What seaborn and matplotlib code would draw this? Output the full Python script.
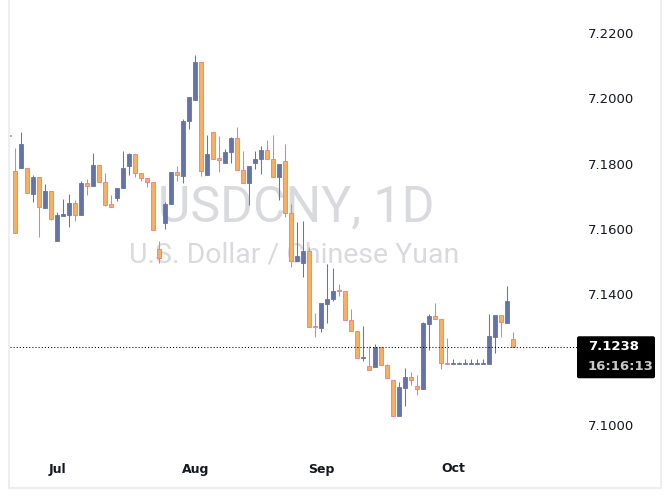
import pandas as pd
import numpy as np
import matplotlib.pyplot as plt
import seaborn as sns
from matplotlib.patches import FancyBboxPatch
from matplotlib.lines import Line2D
from matplotlib.transforms import IdentityTransform

# daily USDCNY candles
opens = [7.1886, 7.1777, 7.1786, 7.1786, 7.1708, 7.1758, 7.1665, 7.1715, 7.1564, 7.1639,
         7.1644, 7.1679, 7.1642, 7.1740, 7.1733, 7.1795, 7.1743, 7.1676, 7.1696, 7.1725,
         7.1794, 7.1829, 7.1771, 7.1755, 7.1743, 7.1538, 7.1617, 7.1676, 7.1774, 7.1763,
         7.1930, 7.1995, 7.2111, 7.1766, 7.1897, 7.1817, 7.1803, 7.1835, 7.1878, 7.1780,
         7.1740, 7.1801, 7.1813, 7.1842, 7.1813, 7.1760, 7.1807, 7.1648, 7.1503, 7.1497,
         7.1532, 7.1302, 7.1298, 7.1371, 7.1385, 7.1410, 7.1409, 7.1321, 7.1287, 7.1206,
         7.1180, 7.1178, 7.1238, 7.1183, 7.1137, 7.1028, 7.1114, 7.1146, 7.1118, 7.1111,
         7.1310, 7.1333, 7.1324, 7.1189, 7.1187, 7.1187, 7.1187, 7.1187, 7.1188, 7.1187,
         7.1186, 7.1270, 7.1337, 7.1313, 7.1263]
highs = [7.1888, 7.1849, 7.1898, 7.1786, 7.1765, 7.1758, 7.1737, 7.1715, 7.1651, 7.1692,
         7.1707, 7.1688, 7.1747, 7.1753, 7.1833, 7.1795, 7.1771, 7.1704, 7.1726, 7.1839,
         7.1833, 7.1829, 7.1771, 7.1755, 7.1743, 7.1563, 7.1684, 7.1774, 7.1793, 7.1937,
         7.2004, 7.2132, 7.2111, 7.1888, 7.1897, 7.1884, 7.1846, 7.1881, 7.1911, 7.1839,
         7.1793, 7.1839, 7.1855, 7.1872, 7.1888, 7.1799, 7.1860, 7.1676, 7.1622, 7.1624,
         7.1546, 7.1342, 7.1373, 7.1493, 7.1481, 7.1432, 7.1409, 7.1355, 7.1287, 7.1303,
         7.1242, 7.1247, 7.1238, 7.1188, 7.1137, 7.1132, 7.1174, 7.1162, 7.1153, 7.1315,
         7.1340, 7.1373, 7.1324, 7.1266, 7.1202, 7.1193, 7.1202, 7.1202, 7.1202, 7.1202,
         7.1340, 7.1337, 7.1337, 7.1426, 7.1285]
lows = [7.1882, 7.1587, 7.1786, 7.1709, 7.1684, 7.1576, 7.1665, 7.1628, 7.1564, 7.1639,
        7.1607, 7.1625, 7.1642, 7.1704, 7.1733, 7.1743, 7.1670, 7.1666, 7.1687, 7.1725,
        7.1765, 7.1760, 7.1748, 7.1730, 7.1596, 7.1495, 7.1600, 7.1676, 7.1748, 7.1740,
        7.1905, 7.1995, 7.1763, 7.1766, 7.1815, 7.1774, 7.1803, 7.1801, 7.1781, 7.1740,
        7.1674, 7.1783, 7.1767, 7.1813, 7.1758, 7.1688, 7.1638, 7.1485, 7.1503, 7.1454,
        7.1301, 7.1270, 7.1286, 7.1313, 7.1381, 7.1395, 7.1321, 7.1287, 7.1204, 7.1197,
        7.1167, 7.1178, 7.1183, 7.1143, 7.1028, 7.1028, 7.1059, 7.1123, 7.1093, 7.1111,
        7.1231, 7.1324, 7.1172, 7.1186, 7.1187, 7.1187, 7.1187, 7.1187, 7.1188, 7.1187,
        7.1186, 7.1221, 7.1270, 7.1313, 7.1238]
closes = [7.1884, 7.1587, 7.1860, 7.1709, 7.1759, 7.1666, 7.1716, 7.1632, 7.1643, 7.1646,
          7.1679, 7.1642, 7.1741, 7.1733, 7.1796, 7.1743, 7.1674, 7.1666, 7.1726, 7.1787,
          7.1830, 7.1771, 7.1755, 7.1743, 7.1596, 7.1510, 7.1677, 7.1774, 7.1764, 7.1932,
          7.2004, 7.2111, 7.1777, 7.1829, 7.1815, 7.1810, 7.1836, 7.1878, 7.1781, 7.1740,
          7.1793, 7.1814, 7.1842, 7.1813, 7.1758, 7.1799, 7.1648, 7.1503, 7.1517, 7.1532,
          7.1301, 7.1300, 7.1373, 7.1386, 7.1410, 7.1409, 7.1321, 7.1287, 7.1204, 7.1208,
          7.1167, 7.1238, 7.1183, 7.1143, 7.1028, 7.1116, 7.1147, 7.1137, 7.1111, 7.1312,
          7.1333, 7.1324, 7.1189, 7.1186, 7.1187, 7.1187, 7.1187, 7.1187, 7.1190, 7.1187,
          7.1272, 7.1337, 7.1314, 7.1380, 7.1238]
dates = pd.bdate_range('2025-06-19', periods=len(closes))
price_ticks = [7.10, 7.14, 7.16, 7.18, 7.20, 7.22]
symbol = 'USDCNY, 1D'
description = 'U.S. Dollar / Chinese Yuan'
countdown = '16:16:13'

UP_BODY, UP_EDGE = '#6474aa', '#6474aa'
DOWN_BODY, DOWN_EDGE = '#fbae62', '#f07a8b'
TEXT = '#131722'

sns.set_theme(style='white')
plt.rcParams['font.family'] = ['DejaVu Sans']

df = pd.DataFrame({'date': dates, 'open': opens, 'high': highs, 'low': lows, 'close': closes})
df['x'] = np.arange(len(df))
df['up'] = df['close'] >= df['open']
df['bottom'] = df[['open', 'close']].min(axis=1)
df['height'] = (df['close'] - df['open']).abs().clip(lower=0.0003)

fig = plt.figure(figsize=(6.7, 5.03), dpi=100)
ax = fig.add_axes([10 / 670, 53 / 503, 567 / 670, 445 / 503])

# watermark
ax.text(0.504, 0.546, symbol, transform=ax.transAxes, ha='center', va='center',
        fontsize=36, color='#d8dade', family='Roboto', zorder=0)
ax.text(0.501, 0.438, description, transform=ax.transAxes, ha='center', va='center',
        fontsize=20.5, color='#d8dade', family='Roboto', zorder=0)

for up, body, edge in [(True, UP_BODY, UP_EDGE), (False, DOWN_BODY, DOWN_EDGE)]:
    d = df[df['up'] == up]
    ax.vlines(d['x'], d['low'], d['high'], color=edge, lw=0.75, zorder=2)
    ax.bar(d['x'], d['height'], bottom=d['bottom'], width=0.62, color=body,
           edgecolor=edge, linewidth=0.6, zorder=3)

last = df['close'].iloc[-1]
ax.axhline(last, color='black', lw=0.75, ls=(0, (1, 2)), zorder=4)

ax.set_xlim(0.117, 94.62)
ax.set_ylim(7.09235, 7.22857)

month_start = df.groupby(df['date'].dt.to_period('M'))['x'].min()
month_start = month_start[month_start > 0]
ax.set_xticks(month_start.values)
ax.set_xticklabels([p.strftime('%b') for p in month_start.index], fontweight='bold')
ax.set_yticks(price_ticks)
ax.set_yticklabels([f'{v:.4f}' for v in price_ticks])
ax.yaxis.tick_right()
ax.tick_params(axis='y', length=0, pad=8, labelsize=9.5, labelcolor=TEXT)
ax.tick_params(axis='x', length=0, pad=9, labelsize=9, labelcolor=TEXT)
ax.set_xlabel('')
ax.set_ylabel('')
sns.despine(ax=ax, left=True, bottom=True, right=True, top=True)
ax.grid(False)

# last price label on the price scale
x_disp = ax.transAxes.transform((1, 0))[0]
y_disp = ax.transData.transform((0, last))[1]
fig.add_artist(FancyBboxPatch((x_disp + 2, y_disp - 29), 74, 38,
                              boxstyle='round,pad=2', fc='black', ec='none',
                              transform=IdentityTransform()))
fig.text(x_disp + 11, y_disp + 0.5, f'{last:.4f}', transform=IdentityTransform(),
         color='white', fontsize=9.5, fontweight='bold', va='center', ha='left')
fig.text(x_disp + 11, y_disp - 19.5, countdown, transform=IdentityTransform(),
         color='#c8c9cc', fontsize=9.5, fontweight='bold', va='center', ha='left')

# card border
border = '#eceef3'
fig.add_artist(Line2D([9 / 670, 9 / 670], [1, 1 - 488 / 503], color=border, lw=1.5))
fig.add_artist(Line2D([661 / 670, 661 / 670], [1, 1 - 488 / 503], color=border, lw=1.5))
fig.add_artist(Line2D([9 / 670, 661 / 670], [1 - 488 / 503, 1 - 488 / 503], color=border, lw=1.5))

fig.savefig('out.png', dpi=100)
